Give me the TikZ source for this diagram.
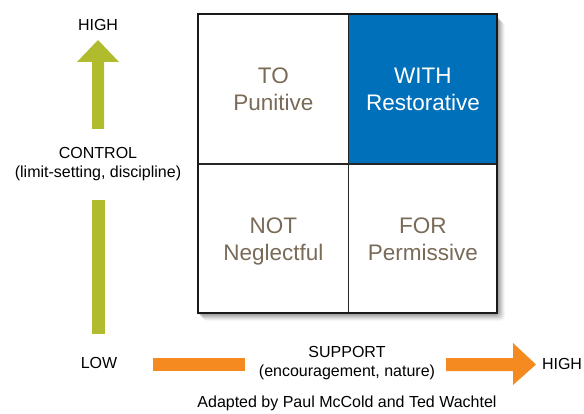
\documentclass[tikz,border=0pt]{standalone}
\usepackage{fontspec}
\setmainfont{Liberation Sans}
\definecolor{ctrlgreen}{HTML}{B0BC2E}
\definecolor{suporange}{HTML}{F58A20}
\definecolor{withblue}{HTML}{0070BA}
\definecolor{cellbrown}{HTML}{7A6A58}
\tikzset{
  lbl/.style={font=\fontsize{16}{19}\selectfont, align=center, inner sep=0pt, text=black},
  celltxt/.style={font=\fontsize{22.5}{27}\selectfont, align=center, inner sep=0pt, text=cellbrown, anchor=base},
  cellbox/.style={draw=black!85, line width=1.3pt, minimum width=149.5pt, minimum height=149.5pt, inner sep=0pt},
}
\begin{document}
\begin{tikzpicture}[x=1pt,y=-1pt]
\useasboundingbox[fill=white] (0,0) rectangle (584,414);
% shadow
\foreach \o/\a in {8/0.03,7/0.04,6/0.05,5/0.06,4/0.07,3/0.08,2/0.09}{
  \fill[black,opacity=\a,rounded corners=4pt] (198+\o-3,14+\o) rectangle (497+\o,313+\o);
}
% cells
\node[cellbox, fill=white, anchor=north west] (to) at (198,14) {};
\node[cellbox, fill=withblue, anchor=north west] (with) at (347.5,14) {};
\node[cellbox, fill=white, anchor=north west] (not) at (198,163.5) {};
\node[cellbox, fill=white, anchor=north west] (for) at (347.5,163.5) {};
\draw[black!90, line width=1.6pt] (198,14) rectangle (497,313);
\node[celltxt] (toT) at ([yshift=-21.5pt]to.center) {TO\\Punitive};
\node[celltxt, text=white] (withT) at ([yshift=-21.5pt]with.center) {WITH\\Restorative};
\node[celltxt] (notT) at ([yshift=-21.5pt]not.center) {NOT\\Neglectful};
\node[celltxt] (forT) at ([yshift=-21.5pt]for.center) {FOR\\Permissive};
% control arrow
\fill[ctrlgreen] (92,129) -- (92,62) -- (77,62) -- (98,40) -- (119,62) -- (104,62) -- (104,129) -- cycle;
\fill[ctrlgreen] (92,200) rectangle (104.5,334);
\node[lbl] (high1) at (98,25) {HIGH};
\node[lbl] (control) at (98,164) {CONTROL\\(limit-setting, discipline)};
\node[lbl] (low) at (99,363) {LOW};
% support arrow
\fill[suporange] (153,358) rectangle (245,371);
\fill[suporange] (446,358) -- (513,358) -- (513,343) -- (536,364.5) -- (513,385) -- (513,371) -- (446,371) -- cycle;
\node[lbl] (support) at (347,363) {SUPPORT\\(encouragement, nature)};
\node[lbl] (high2) at (562,364) {HIGH};
\node[lbl] (credit) at (347,403) {Adapted by Paul McCold and Ted Wachtel};
\end{tikzpicture}
\end{document}
